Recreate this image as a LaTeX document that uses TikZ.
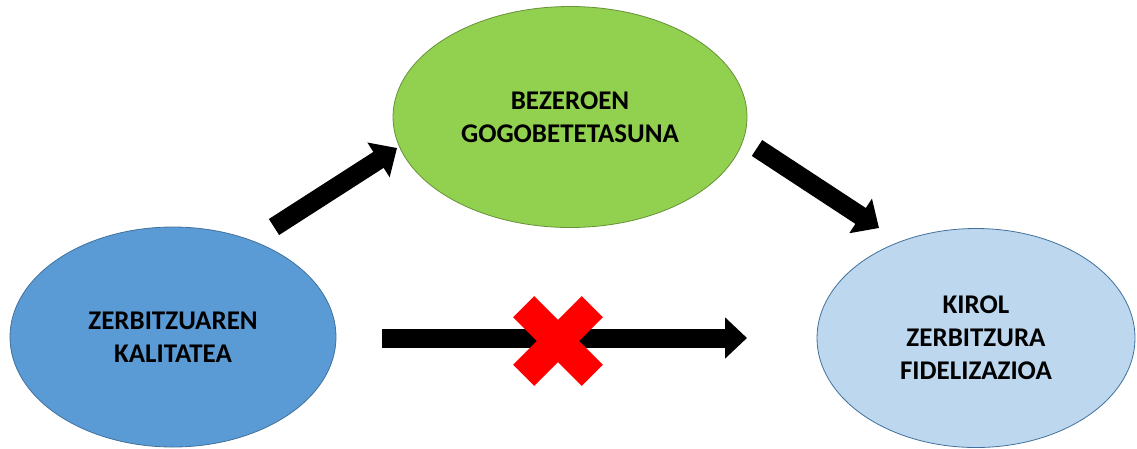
\documentclass[tikz,border=0pt]{standalone}
\usepackage{fontspec}
\setmainfont{Carlito}
\usetikzlibrary{shapes.geometric,arrows.meta}
\definecolor{cblue}{HTML}{5B9BD5}
\definecolor{cgreen}{HTML}{92D050}
\definecolor{clight}{HTML}{BDD7EE}
\definecolor{cedge}{HTML}{41719C}
\tikzset{
  bubble/.style={ellipse, inner sep=0pt, draw=cedge, line width=0.8pt,
    align=center, font=\bfseries\fontsize{27}{33}\selectfont, text=black},
  blockarrow/.style={line width=19pt, draw=black,
    -{Triangle[length=22pt,width=40pt]}},
  xbar/.style={fill=red, draw=none, minimum width=97pt, minimum height=30pt,
    inner sep=0pt, rectangle},
}
\begin{document}
\begin{tikzpicture}[x=1pt,y=-1pt]
\useasboundingbox (0,0) rectangle (1137,448);
\node[bubble, fill=cblue, minimum width=326pt, minimum height=220pt] (kal) at (173,337) {ZERBITZUAREN\\KALITATEA};
\node[bubble, fill=cgreen, minimum width=354pt, minimum height=221pt, draw=cgreen!70!black] (gogo) at (570,117) {BEZEROEN\\GOGOBETETASUNA};
\node[bubble, fill=clight, minimum width=318pt, minimum height=219pt] (fid) at (976,338) {KIROL\\ZERBITZURA\\FIDELIZAZIOA};
\coordinate (a1s) at (274,227);
\coordinate (a1e) at (397,148);
\coordinate (a2s) at (757,148);
\coordinate (a2e) at (879,228);
\coordinate (a3s) at (382,338);
\coordinate (a3e) at (747,338);
\draw[blockarrow] (a1s) -- (a1e);
\draw[blockarrow] (a2s) -- (a2e);
\draw[blockarrow] (a3s) -- (a3e);
\node[xbar, rotate=45] (xa) at (558,341) {};
\node[xbar, rotate=-45] (xb) at (558,341) {};
\end{tikzpicture}
\end{document}
